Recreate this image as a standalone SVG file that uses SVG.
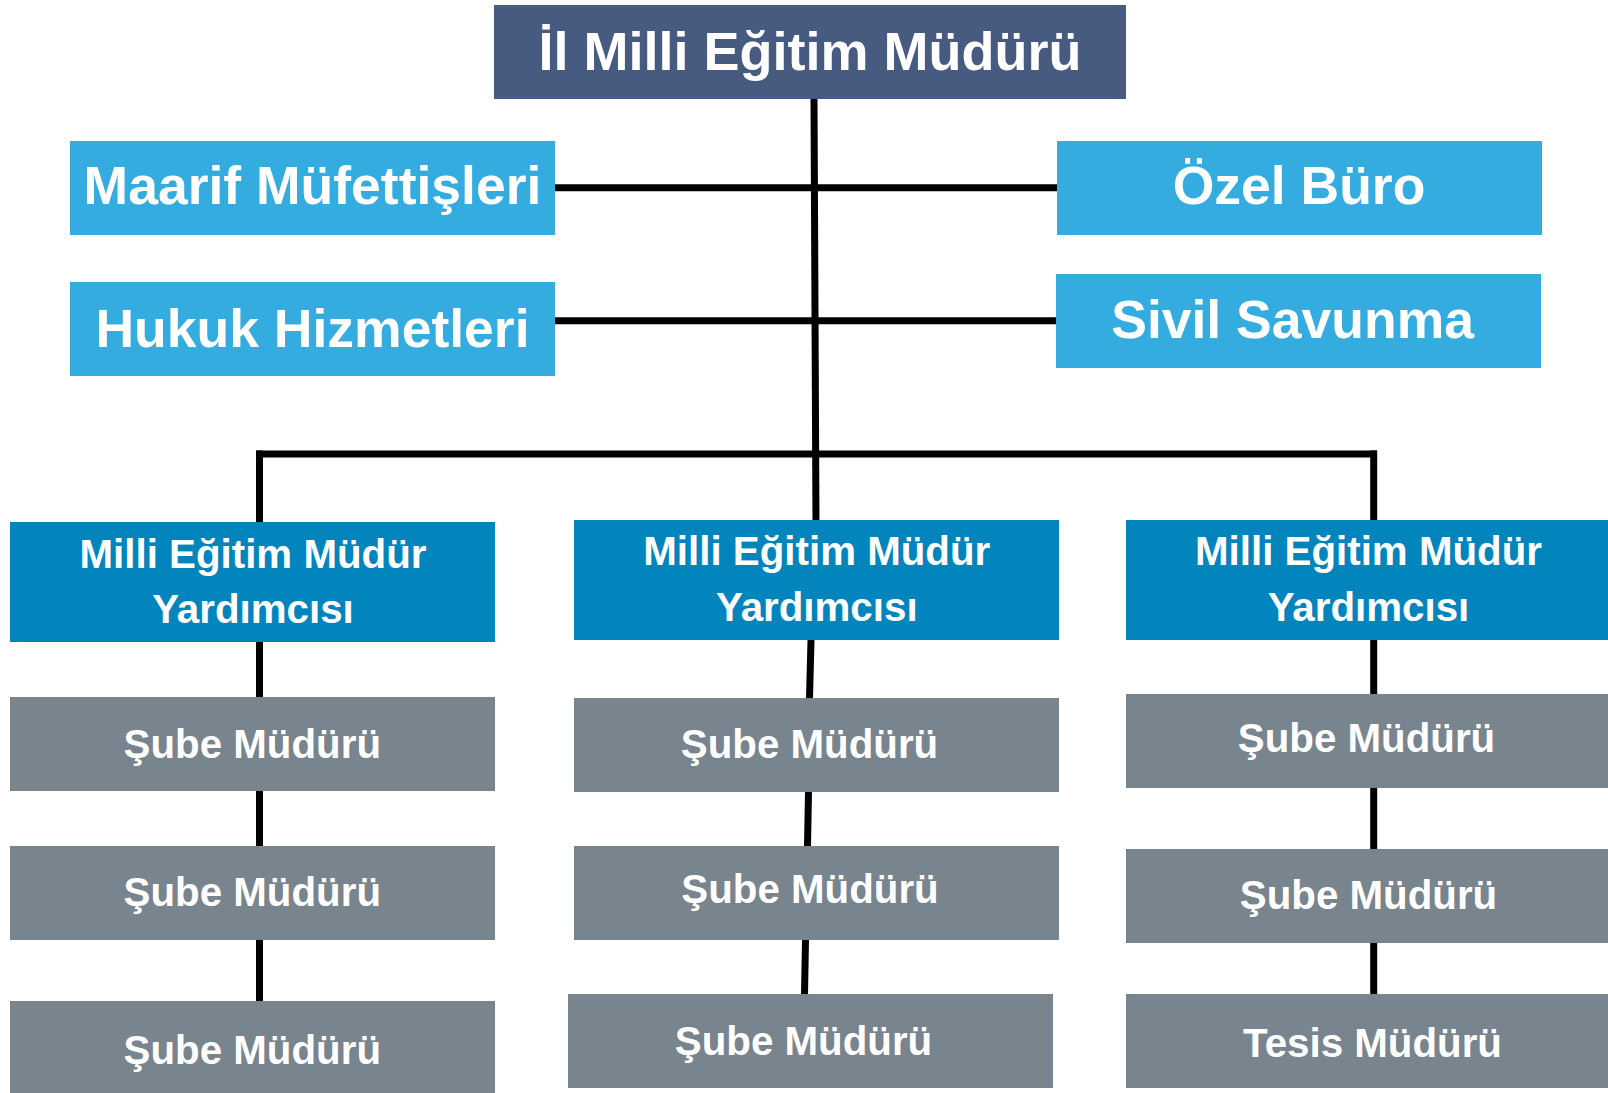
<svg xmlns="http://www.w3.org/2000/svg" width="1608" height="1093" viewBox="0 0 1608 1093">
<style>
text{font-family:"Liberation Sans",Arial,sans-serif;font-weight:bold;fill:#ffffff;text-anchor:middle}
.top{fill:#475a80}
.lb{fill:#35ace0}
.mb{fill:#0284bc}
.gb{fill:#78848e}
.t53{font-size:53.5px}
.t52{font-size:54px}
.t40{font-size:40.3px}
#connectors line{stroke:#000;stroke-width:7}
</style>
<rect width="1608" height="1093" fill="#ffffff"/>
<g id="connectors">
<line x1="814" y1="99" x2="816" y2="527"/>
<line x1="555" y1="187.7" x2="1057" y2="187.7"/>
<line x1="555" y1="320.7" x2="1056" y2="320.7"/>
<line x1="256" y1="454" x2="1377" y2="454"/>
<line x1="259.5" y1="450.5" x2="259.5" y2="522"/>
<line x1="1373.7" y1="450.5" x2="1373.7" y2="520"/>
<line x1="259.5" y1="642" x2="259.5" y2="697"/>
<line x1="259.5" y1="791" x2="259.5" y2="846"/>
<line x1="259.5" y1="940" x2="259.5" y2="1001"/>
<line x1="811" y1="640" x2="809.5" y2="698"/>
<line x1="808.5" y1="792" x2="807.5" y2="846"/>
<line x1="805.5" y1="940" x2="804.5" y2="994"/>
<line x1="1373.7" y1="640" x2="1373.7" y2="694"/>
<line x1="1373.7" y1="788" x2="1373.7" y2="849"/>
<line x1="1373.7" y1="943" x2="1373.7" y2="994"/>
</g>
<g id="n-il"><rect class="top" x="494" y="5" width="632" height="94"/><text class="t52" x="810" y="69.5">İl Milli Eğitim Müdürü</text></g>
<g id="n-maarif"><rect class="lb" x="70" y="141" width="485" height="94"/><text class="t53" x="312.5" y="204">Maarif Müfettişleri</text></g>
<g id="n-ozel"><rect class="lb" x="1057" y="141" width="485" height="94"/><text class="t53" x="1299" y="204">Özel Büro</text></g>
<g id="n-hukuk"><rect class="lb" x="70" y="282" width="485" height="94"/><text class="t53" x="312.5" y="346.7">Hukuk Hizmetleri</text></g>
<g id="n-sivil"><rect class="lb" x="1056" y="274" width="485" height="94"/><text class="t53" x="1292.6" y="337.7">Sivil Savunma</text></g>
<g id="n-memy1"><rect class="mb" x="10" y="522" width="485" height="120"/><text class="t40" x="253" y="567.7">Milli Eğitim Müdür</text><text class="t40" x="253" y="623.3">Yardımcısı</text></g>
<g id="n-memy2"><rect class="mb" x="574" y="520" width="485" height="120"/><text class="t40" x="816.8" y="565">Milli Eğitim Müdür</text><text class="t40" x="816.8" y="620.6">Yardımcısı</text></g>
<g id="n-memy3"><rect class="mb" x="1126" y="520" width="482" height="120"/><text class="t40" x="1368.5" y="565">Milli Eğitim Müdür</text><text class="t40" x="1368.5" y="620.6">Yardımcısı</text></g>
<g id="n-s11"><rect class="gb" x="10" y="697" width="485" height="94"/><text class="t40" x="252.3" y="757.5">Şube Müdürü</text></g>
<g id="n-s12"><rect class="gb" x="10" y="846" width="485" height="94"/><text class="t40" x="252.3" y="905.5">Şube Müdürü</text></g>
<g id="n-s13"><rect class="gb" x="10" y="1001" width="485" height="92"/><text class="t40" x="252.3" y="1064">Şube Müdürü</text></g>
<g id="n-s21"><rect class="gb" x="574" y="698" width="485" height="94"/><text class="t40" x="809.5" y="758">Şube Müdürü</text></g>
<g id="n-s22"><rect class="gb" x="574" y="846" width="485" height="94"/><text class="t40" x="810" y="902.5">Şube Müdürü</text></g>
<g id="n-s23"><rect class="gb" x="568" y="994" width="485" height="94"/><text class="t40" x="803.5" y="1054.6">Şube Müdürü</text></g>
<g id="n-s31"><rect class="gb" x="1126" y="694" width="482" height="94"/><text class="t40" x="1366.5" y="751.7">Şube Müdürü</text></g>
<g id="n-s32"><rect class="gb" x="1126" y="849" width="482" height="94"/><text class="t40" x="1368.5" y="908.7">Şube Müdürü</text></g>
<g id="n-t33"><rect class="gb" x="1126" y="994" width="482" height="94"/><text class="t40" x="1372.5" y="1057.3">Tesis Müdürü</text></g>
</svg>
